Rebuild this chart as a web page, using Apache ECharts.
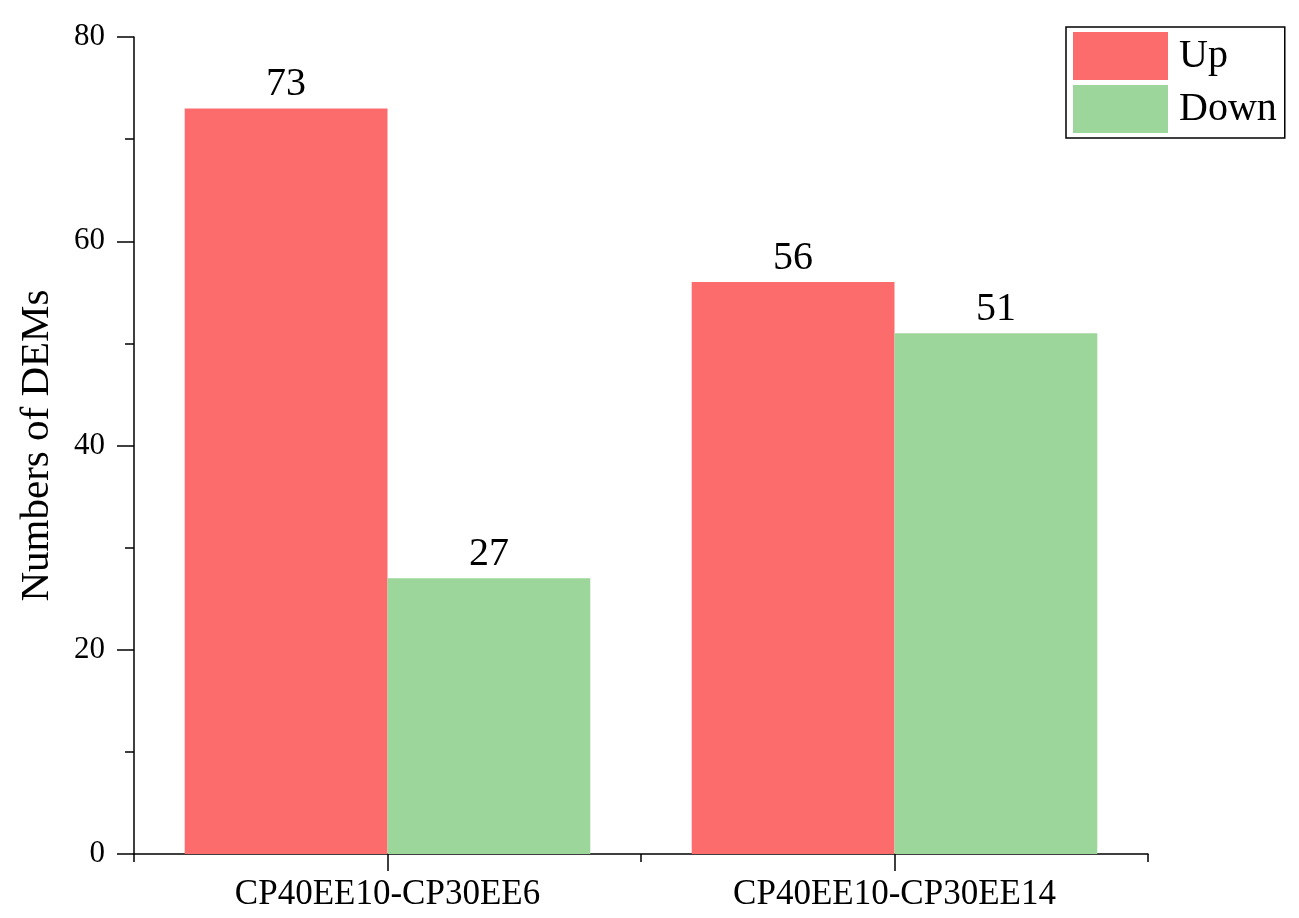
<!DOCTYPE html>
<html>
<head>
<meta charset="utf-8">
<script src="https://cdn.jsdelivr.net/npm/echarts@6/dist/echarts.min.js"></script>
<style>
html,body{margin:0;padding:0;background:#fff;}
#chart{width:1299px;height:918px;}
</style>
</head>
<body>
<div id="chart"></div>
<script>
const categories = ['CP40EE10-CP30EE6', 'CP40EE10-CP30EE14'];
const upValues = [73, 56];
const downValues = [27, 51];
const seriesNames = ['Up', 'Down'];
const yTicks = { min: 0, max: 80, interval: 20 };

const FONT = '"Liberation Serif", "Times New Roman", serif';
const chart = echarts.init(document.getElementById('chart'));
const labelStyle = { show: true, position: 'top', distance: 4, color: '#000', fontFamily: FONT, fontSize: 40 };

chart.setOption({
  animation: false,
  backgroundColor: '#fff',
  grid: { left: 134, right: 151, top: 37, bottom: 64 },
  legend: {
    orient: 'vertical',
    left: 1066, top: 27,
    padding: [5, 8, 5, 7],
    itemWidth: 95, itemHeight: 48, itemGap: 5,
    borderColor: '#000', borderWidth: 1.5, borderRadius: 0,
    icon: 'rect',
    textStyle: { fontFamily: FONT, fontSize: 40, color: '#000', padding: [0, 0, 0, 6] },
    data: seriesNames
  },
  xAxis: [{
    type: 'category',
    data: categories,
    axisLine: { lineStyle: { color: '#000', width: 1.5 } },
    axisTick: { show: true, alignWithLabel: true, length: 17, lineStyle: { color: '#000', width: 1.5 } },
    axisLabel: { color: '#000', fontFamily: FONT, fontSize: 35, margin: 23 },
    splitLine: { show: false }
  }, {
    type: 'category',
    data: categories,
    position: 'bottom',
    axisLine: { show: false },
    axisTick: { show: true, length: 8, lineStyle: { color: '#000', width: 1.5 } },
    axisLabel: { show: false },
    splitLine: { show: false }
  }],
  yAxis: {
    type: 'value',
    min: yTicks.min, max: yTicks.max, interval: yTicks.interval,
    name: 'Numbers of DEMs',
    nameLocation: 'middle',
    nameGap: 76,
    nameTextStyle: { fontFamily: FONT, fontSize: 41, color: '#000' },
    axisLine: { show: true, lineStyle: { color: '#000', width: 1.5 } },
    axisTick: { show: true, length: 17, lineStyle: { color: '#000', width: 1.5 } },
    minorTick: { show: true, splitNumber: 2, length: 9, lineStyle: { color: '#000', width: 1.5 } },
    axisLabel: { color: '#000', fontFamily: FONT, fontSize: 31, margin: 29 },
    splitLine: { show: false }
  },
  series: [{
    name: seriesNames[0],
    type: 'bar',
    xAxisIndex: 0,
    data: upValues,
    barGap: '0%',
    barCategoryGap: '20%',
    itemStyle: { color: '#FC6C6C' },
    label: labelStyle
  }, {
    name: seriesNames[1],
    type: 'bar',
    xAxisIndex: 0,
    data: downValues,
    barGap: '0%',
    barCategoryGap: '20%',
    itemStyle: { color: '#9DD69B' },
    label: labelStyle
  }]
});
</script>
</body>
</html>
